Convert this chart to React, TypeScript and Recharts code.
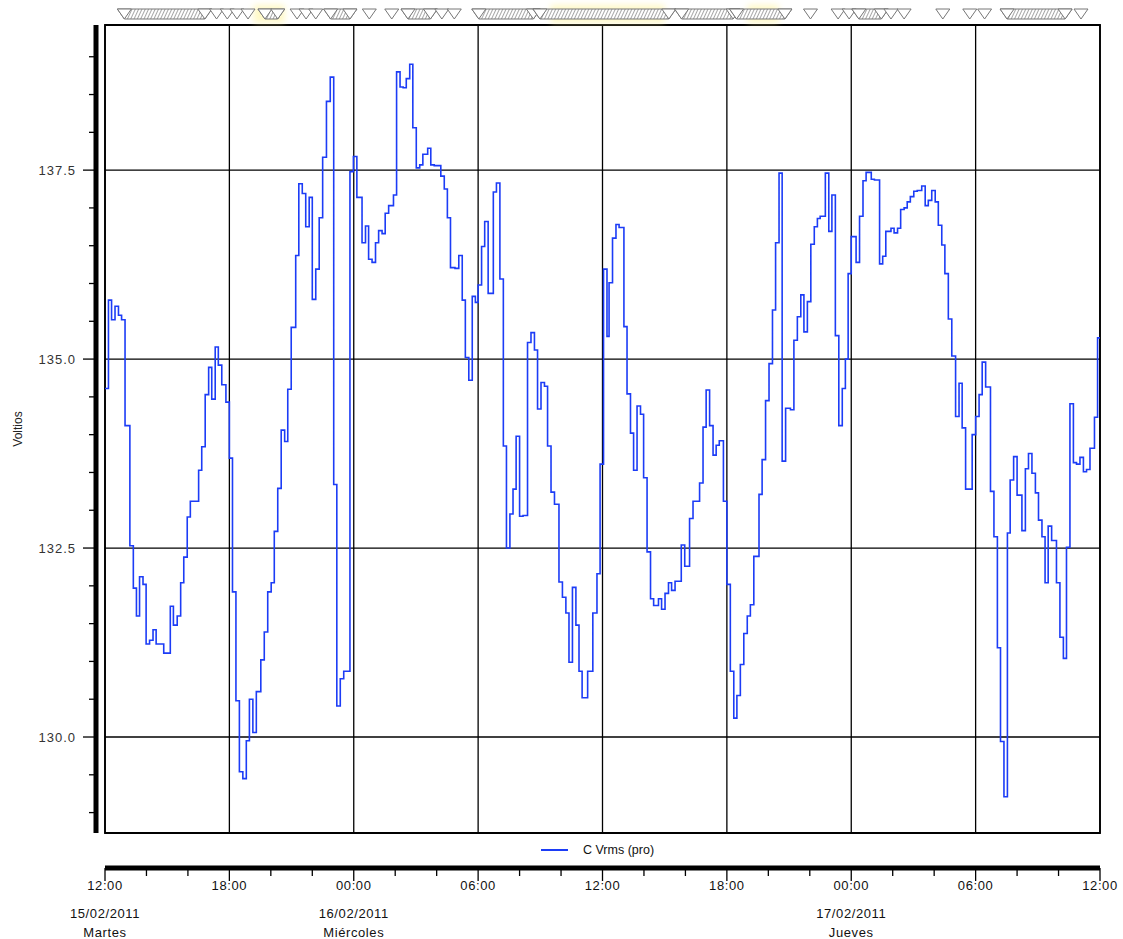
import {
  ComposedChart,
  Line,
  XAxis,
  YAxis,
  CartesianGrid,
  ReferenceArea,
  Legend,
} from "recharts";

// minutes since 15/02/2011 12:00, one entry per step of the recorder
const minutes = [
  0, 10, 19, 29, 39, 48, 58, 72, 82, 91, 100, 110, 119, 129, 139, 148, 170, 189, 198, 209,
  219, 228, 238, 247, 271, 280, 290, 300, 309, 319, 328, 338, 350, 360, 369, 379, 389, 399, 409, 418,
  428, 438, 451, 461, 471, 481, 490, 500, 510, 520, 529, 539, 552, 561, 571, 581, 591, 600, 610, 620,
  630, 641, 652, 662, 671, 681, 691, 709, 719, 729, 744, 754, 763, 773, 783, 792, 802, 811, 821, 835,
  844, 854, 863, 872, 882, 891, 901, 911, 920, 934, 943, 953, 972, 982, 991, 1000, 1013, 1024, 1034, 1043,
  1053, 1063, 1072, 1080, 1090, 1099, 1109, 1124, 1133, 1143, 1153, 1162, 1172, 1181, 1190, 1200, 1210, 1223, 1233, 1243,
  1252, 1262, 1272, 1281, 1291, 1301, 1314, 1324, 1334, 1343, 1353, 1363, 1372, 1381, 1397, 1412, 1424, 1433, 1443, 1453,
  1459, 1469, 1479, 1488, 1502, 1511, 1521, 1530, 1540, 1550, 1559, 1569, 1579, 1588, 1602, 1611, 1621, 1631, 1640, 1650,
  1668, 1678, 1692, 1702, 1721, 1731, 1740, 1750, 1760, 1769, 1778, 1790, 1800, 1810, 1820, 1829, 1839, 1849, 1859, 1868,
  1878, 1893, 1902, 1912, 1922, 1932, 1941, 1951, 1960, 1970, 1984, 1994, 2004, 2014, 2023, 2033, 2043, 2053, 2062, 2070,
  2085, 2095, 2104, 2114, 2124, 2134, 2143, 2151, 2160, 2174, 2184, 2194, 2203, 2218, 2227, 2242, 2251, 2260, 2275, 2284,
  2294, 2303, 2313, 2322, 2331, 2341, 2351, 2364, 2374, 2383, 2393, 2403, 2412, 2422, 2431, 2441, 2451, 2462, 2472, 2481,
  2491, 2510, 2520, 2530, 2539, 2549, 2563, 2573, 2583, 2592, 2602, 2612, 2620, 2630, 2640, 2654, 2664, 2673, 2683, 2693,
  2702, 2712, 2721, 2730, 2740, 2754, 2764, 2774, 2783, 2793, 2803, 2812, 2822, 2832, 2841, 2851, 2864, 2873, 2880,
];

const vrms = [
  134.61, 135.78, 135.52, 135.7, 135.58, 135.52, 134.12, 132.53, 131.97, 131.6, 132.12, 132.02, 131.23, 131.28, 131.42, 131.23, 131.11, 131.73, 131.48, 131.6,
  132.04, 132.38, 132.91, 133.12, 133.53, 133.84, 134.53, 134.89, 134.47, 135.16, 134.92, 134.66, 134.43, 133.69, 131.92, 130.48, 129.54, 129.45, 129.95, 130.5,
  130.06, 130.6, 131.02, 131.39, 131.92, 132.04, 132.72, 133.29, 134.06, 133.91, 134.6, 135.42, 136.37, 137.32, 137.19, 136.75, 137.14, 135.79, 136.19, 136.87,
  137.67, 138.41, 138.73, 133.34, 130.41, 130.77, 130.87, 137.48, 137.68, 137.14, 136.54, 136.76, 136.32, 136.28, 136.54, 136.7, 136.66, 136.93, 137.03, 137.17,
  138.8, 138.6, 138.59, 138.71, 138.9, 138.06, 137.53, 137.57, 137.71, 137.79, 137.57, 137.56, 137.42, 137.25, 136.87, 136.21, 136.2, 136.37, 135.78, 135.02,
  134.72, 135.83, 135.75, 135.98, 136.49, 136.82, 135.87, 137.21, 137.33, 136.06, 133.85, 132.5, 132.95, 133.28, 133.98, 132.92, 132.93, 135.22, 135.35, 135.12,
  134.34, 134.69, 134.64, 133.85, 133.24, 133.08, 132.05, 131.85, 131.64, 130.99, 131.98, 131.48, 130.87, 130.52, 130.87, 131.64, 132.16, 133.61, 136.19, 135.3,
  136.01, 136.6, 136.78, 136.74, 135.43, 134.54, 134.02, 133.53, 134.38, 134.27, 133.43, 132.45, 131.83, 131.74, 131.83, 131.69, 131.9, 132.04, 131.94, 132.06,
  132.54, 132.26, 132.89, 133.12, 133.36, 134.1, 134.59, 134.12, 133.73, 133.86, 133.92, 133.12, 132.02, 130.87, 130.25, 130.55, 130.96, 131.37, 131.6, 131.75,
  132.39, 133.21, 133.67, 134.45, 134.94, 135.65, 136.54, 137.46, 133.65, 134.35, 134.33, 135.25, 135.56, 135.85, 135.36, 135.76, 136.52, 136.75, 136.86, 136.89,
  137.46, 136.69, 137.17, 135.31, 134.12, 134.61, 135.0, 136.13, 136.62, 136.28, 136.89, 137.36, 137.47, 137.38, 137.37, 136.26, 136.36, 136.69, 136.73, 136.67,
  136.73, 136.98, 137.0, 137.08, 137.15, 137.22, 137.23, 137.29, 137.03, 137.1, 137.23, 137.08, 136.77, 136.51, 136.13, 135.53, 135.04, 134.24, 134.68, 134.09,
  133.28, 134.0, 134.24, 134.53, 134.96, 134.63, 133.25, 132.65, 131.18, 129.94, 129.21, 132.7, 133.4, 133.71, 133.2, 132.73, 133.55, 133.75, 133.49, 133.23,
  132.87, 132.65, 132.04, 132.79, 132.6, 132.04, 131.32, 131.04, 132.51, 134.41, 133.63, 133.61, 133.7, 133.51, 133.54, 133.82, 134.23, 135.28, 135.28,
];

// event markers along the top (start, end in minutes; single events have start == end)
const eventSpans: [number, number][] = [
  [56, 289], [323, 323], [354, 354], [382, 382], [414, 414], [463, 500], [556, 556], [582, 582], [610, 610],
  [653, 709], [765, 765], [830, 830], [877, 942], [975, 975], [1011, 1011], [1082, 1240], [1259, 1632],
  [1669, 1818], [1828, 1968], [2042, 2042], [2122, 2122], [2154, 2154], [2182, 2247], [2275, 2275],
  [2313, 2313], [2425, 2425], [2503, 2503], [2546, 2546], [2611, 2779], [2825, 2825],
];
const glowSpans: [number, number][] = [[430, 520], [1290, 1620], [1860, 1950]];

const X_MAX = 2880;
const Y_MIN = 128.73;
const Y_MAX = 139.42;

const gridTimeTicks = [0, 360, 720, 1080, 1440, 1800, 2160, 2520, 2880];
const timeAxisTicks = [
  0, 120, 240, 360, 480, 600, 720, 840, 960, 1080, 1200, 1320, 1440,
  1560, 1680, 1800, 1920, 2040, 2160, 2280, 2400, 2520, 2640, 2760, 2880,
];
const hourLabels: Record<number, string> = {
  0: "12:00", 360: "18:00", 720: "00:00", 1080: "06:00", 1440: "12:00",
  1800: "18:00", 2160: "00:00", 2520: "06:00", 2880: "12:00",
};
const dayLabels: Record<number, [string, string]> = {
  0: ["15/02/2011", "Martes"],
  720: ["16/02/2011", "Miércoles"],
  2160: ["17/02/2011", "Jueves"],
};
const voltGridTicks = [130, 132.5, 135, 137.5];
const voltAxisTicks = [
  129, 129.5, 130, 130.5, 131, 131.5, 132, 132.5, 133, 133.5, 134,
  134.5, 135, 135.5, 136, 136.5, 137, 137.5, 138, 138.5, 139,
];

const data = minutes.map((t, i) => ({ t, v: vrms[i] }));

const LINE_BLUE = "#1c3cf6";
const FONT = "'Liberation Sans', Arial, sans-serif";

const EmptyTick = () => <g />;

const VoltTick = (props: any) => {
  const { x, y, payload } = props;
  const major = voltGridTicks.includes(payload.value);
  return (
    <g>
      <line x1={x - (major ? 13 : 7)} x2={x} y1={y} y2={y} stroke="#000" strokeWidth={1.3} />
      {major && (
        <text x={x - 20} y={y} dy={4.5} textAnchor="end" fontFamily={FONT} fontSize={13}
          letterSpacing={1} fill="#333">
          {payload.value.toFixed(1)}
        </text>
      )}
    </g>
  );
};

const TimeTick = (props: any) => {
  const { x, y, payload } = props;
  const label = hourLabels[payload.value];
  const day = dayLabels[payload.value];
  const common = { x, textAnchor: "middle" as const, fontFamily: FONT, fontSize: 13, letterSpacing: 0.6, fill: "#111" };
  return (
    <g>
      <line x1={x} x2={x} y1={y} y2={y + (label ? 13 : 8)} stroke="#000" strokeWidth={1.3} />
      {label && <text {...common} y={y + 22}>{label}</text>}
      {day && <text {...common} y={y + 50}>{day[0]}</text>}
      {day && <text {...common} y={y + 69}>{day[1]}</text>}
    </g>
  );
};

const triangle = (cx: number, top: number, tip: number, hw: number) =>
  `M${cx - hw},${top}L${cx + hw},${top}L${cx},${tip}Z`;

const MarkerShape = (props: any) => {
  const { x, y, width } = props;
  const top = y - 16;
  const tip = y - 6;
  const hw = 7;
  const w = Math.max(width || 0, 0);
  if (w < 1) {
    return <path d={triangle(x, top, tip, hw)} fill="#fff" stroke="#777" strokeWidth={1} />;
  }
  return (
    <g>
      <path
        d={`M${x - hw},${top}L${x + w + hw},${top}L${x + w},${tip}L${x},${tip}Z`}
        fill="url(#hatch)"
        stroke="#777"
        strokeWidth={1}
      />
      <path d={triangle(x, top, tip, hw)} fill="#fff" stroke="#777" strokeWidth={1} />
      <path d={triangle(x + w, top, tip, hw)} fill="#fff" stroke="#777" strokeWidth={1} />
    </g>
  );
};

const GlowShape = (props: any) => {
  const { x, y, width } = props;
  return (
    <rect x={x} y={y - 20} width={width} height={18} fill="#fff4a0" opacity={0.6} filter="url(#glow)" />
  );
};

const LegendContent = () => (
  <div style={{ display: "flex", alignItems: "center", fontFamily: FONT, fontSize: 12.5, color: "#111" }}>
    <span style={{ display: "inline-block", width: 27, borderTop: `2px solid ${LINE_BLUE}`, marginRight: 15 }} />
    C Vrms (pro)
  </div>
);

const VoltiosLabel = (props: any) => {
  const vb = props.viewBox;
  const cx = vb.x + 22;
  const cy = vb.y + vb.height / 2;
  return (
    <text x={cx} y={cy} transform={`rotate(-90 ${cx} ${cy})`} textAnchor="middle"
      fontFamily={FONT} fontSize={12} fill="#222">
      Voltios
    </text>
  );
};

export default function App() {
  return (
    <div style={{ position: "absolute", left: 0, top: 0, background: "#fff" }}>
      <ComposedChart
        width={1123}
        height={939}
        data={data}
        margin={{ top: 25, right: 23, bottom: 0, left: 0 }}
      >
        <defs>
          <pattern id="hatch" width="3" height="3" patternUnits="userSpaceOnUse" patternTransform="rotate(25)">
            <rect width="3" height="3" fill="#fff" />
            <line x1="0" y1="0" x2="0" y2="3" stroke="#8a8a8a" strokeWidth="1.5" />
          </pattern>
          <filter id="glow" x="-20%" y="-60%" width="140%" height="220%">
            <feGaussianBlur stdDeviation="3" />
          </filter>
        </defs>

        <XAxis
          xAxisId="main"
          type="number"
          dataKey="t"
          domain={[0, X_MAX]}
          allowDataOverflow
          ticks={gridTimeTicks}
          interval={0}
          tick={EmptyTick}
          axisLine={false}
          tickLine={false}
          height={35}
        />
        <XAxis
          xAxisId="time"
          type="number"
          dataKey="t"
          domain={[0, X_MAX]}
          allowDataOverflow
          ticks={timeAxisTicks}
          interval={0}
          tickSize={0}
          tickMargin={0}
          tickLine={false}
          axisLine={{ stroke: "#000", strokeWidth: 5 }}
          tick={<TimeTick />}
          height={71}
        />
        <YAxis
          yAxisId="main"
          type="number"
          domain={[Y_MIN, Y_MAX]}
          allowDataOverflow
          ticks={voltGridTicks}
          interval={0}
          tick={EmptyTick}
          axisLine={false}
          tickLine={false}
          width={9}
        />
        <YAxis
          yAxisId="scale"
          type="number"
          domain={[Y_MIN, Y_MAX]}
          allowDataOverflow
          ticks={voltAxisTicks}
          interval={0}
          tickSize={0}
          tickMargin={0}
          tickLine={false}
          axisLine={{ stroke: "#000", strokeWidth: 5 }}
          tick={<VoltTick />}
          width={96}
          label={VoltiosLabel}
        />

        <CartesianGrid xAxisId="main" yAxisId="main" stroke="#000" strokeWidth={1.3} />

        <ReferenceArea
          xAxisId="main"
          yAxisId="main"
          x1={0}
          x2={X_MAX}
          y1={Y_MIN}
          y2={Y_MAX}
          fill="none"
          stroke="#000"
          strokeWidth={1.8}
          ifOverflow="visible"
        />

        {glowSpans.map(([a, b]) => (
          <ReferenceArea key={`g${a}`} xAxisId="main" yAxisId="main" x1={a} x2={b}
            ifOverflow="visible" shape={GlowShape} />
        ))}
        {eventSpans.map(([a, b]) => (
          <ReferenceArea key={`e${a}`} xAxisId="main" yAxisId="main" x1={a} x2={b}
            ifOverflow="visible" shape={MarkerShape} />
        ))}

        <Line
          xAxisId="main"
          yAxisId="main"
          type="stepAfter"
          dataKey="v"
          name="C Vrms (pro)"
          stroke={LINE_BLUE}
          strokeWidth={1.6}
          dot={false}
          isAnimationActive={false}
        />

        <Legend
          layout="horizontal"
          verticalAlign="middle"
          align="center"
          wrapperStyle={{ top: 843, left: 541, width: 160, height: 16 }}
          content={<LegendContent />}
        />
      </ComposedChart>
    </div>
  );
}
